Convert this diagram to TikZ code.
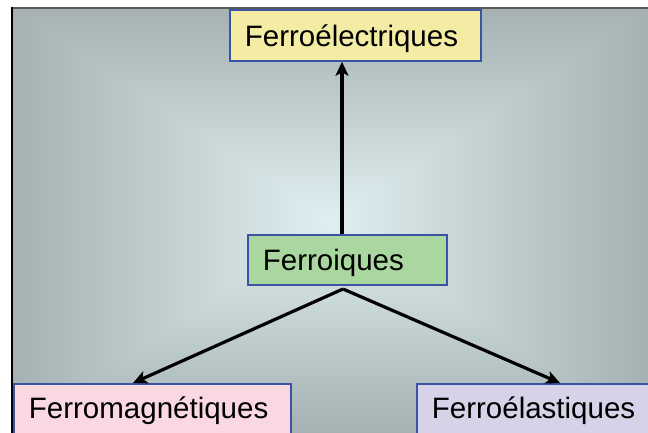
\documentclass[tikz,border=0pt]{standalone}
\usepackage{fontspec}
\setmainfont{Liberation Sans}
\usepackage{xcolor}
\usetikzlibrary{arrows.meta}
\definecolor{bgedge}{RGB}{165,177,178}
\definecolor{bgmid}{RGB}{224,239,241}
\definecolor{boxblue}{RGB}{59,83,164}
\definecolor{yellowbox}{RGB}{244,236,164}
\definecolor{greenbox}{RGB}{170,215,160}
\definecolor{pinkbox}{RGB}{249,216,225}
\definecolor{lilacbox}{RGB}{216,210,232}
\begin{document}
\begin{tikzpicture}[x=1pt,y=1pt,
  ferro/.style={draw=boxblue, line width=1.8pt, anchor=north west, align=left,
    inner xsep=15pt, inner ysep=0pt, font=\fontsize{29.5}{34}\selectfont},
  link/.style={line width=3.2pt, -{Stealth[length=14pt,width=13pt,inset=3.5pt]}}]
\useasboundingbox (0,0) rectangle (648,433);
\clip (0,0) rectangle (648,433);
% background
\fill [white] (0,0) rectangle (648,433);
\coordinate (c) at (330,212.5);
\shade [left color=bgedge, middle color=bgedge!38!bgmid, right color=bgmid] (12,0) rectangle (c |- 0,425);
\shade [right color=bgedge, middle color=bgedge!38!bgmid, left color=bgmid] (c |- 0,0) rectangle (648,425);
\shade [top color=bgedge, middle color=bgedge!38!bgmid, bottom color=bgmid] (12,425) -- (648,425) -- (c) -- cycle;
\shade [bottom color=bgedge, middle color=bgedge!38!bgmid, top color=bgmid] (12,0) -- (648,0) -- (c) -- cycle;
\draw [black!65, line width=1.5pt] (12,425) -- (648,425);
\draw [black, line width=1.5pt] (12,0) -- (12,425.7);
% boxes
\node (elec) [ferro, fill=yellowbox, text width=221pt, text height=37pt, text depth=14pt] at (229,424) {Ferroélectriques};
\node (ferr) [ferro, fill=greenbox, text width=169pt, text height=36pt, text depth=14pt] at (247,199) {Ferroiques};
\node (magn) [ferro, fill=pinkbox, text width=247pt, text height=35pt, text depth=20pt] at (13,50) {Ferromagnétiques};
\node (elas) [ferro, fill=lilacbox, text width=220pt, text height=35pt, text depth=20pt] at (416,50) {Ferroélastiques};
% arrows
\coordinate (fork) at (343,144);
\coordinate (up) at (342,199);
\coordinate (left) at (133,50);
\coordinate (right) at (560,50);
\draw [link] (up) -- (up |- elec.south);
\draw [link] (fork) -- (left);
\draw [link] (fork) -- (right);
\end{tikzpicture}
\end{document}
